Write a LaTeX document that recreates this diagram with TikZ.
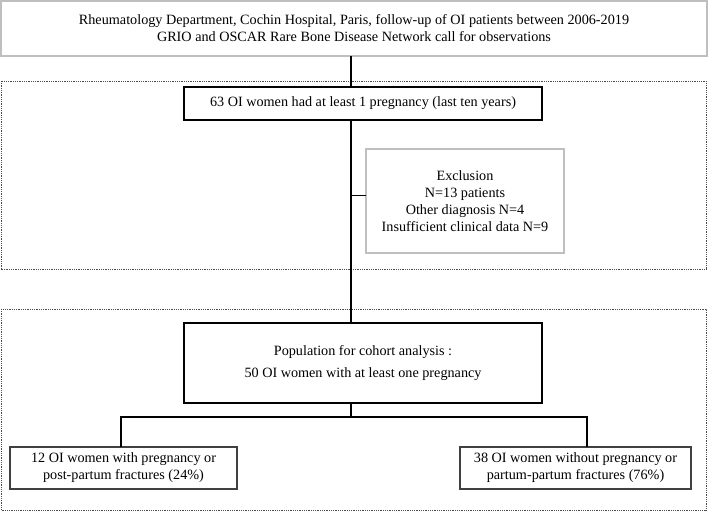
\documentclass[tikz,border=0pt]{standalone}
\usepackage{fontspec}
\setmainfont{Liberation Serif}
\begin{document}
\begin{tikzpicture}[x=1pt,y=-1pt,
  every node/.style={font=\fontsize{14.2}{17}\selectfont, align=center, inner sep=0pt, outer sep=0pt},
  graybox/.style={draw=black!25, line width=1.3pt},
  thickbox/.style={draw=black, line width=2.2pt},
  darkbox/.style={draw=black!75, line width=1.4pt},
  dotbox/.style={draw=black!70, line width=0.9pt, dash pattern=on 0.9pt off 0.9pt},
  conn/.style={draw=black, line width=2.2pt},
  thinconn/.style={draw=black, line width=1pt}]
\useasboundingbox (0,0) rectangle (708,512);
\coordinate (cx) at (351,0);
\coordinate (sy) at (0,195);
% dotted group frames
\draw[dotbox] (1,81) rectangle (706,269);
\draw[dotbox] (1,309) rectangle (706,510);
% nodes
\node[graybox, minimum width=706pt, minimum height=55pt] (top) at (354,28.5)
  {Rheumatology Department, Cochin Hospital, Paris, follow-up of OI patients between 2006-2019\\GRIO and OSCAR Rare Bone Disease Network call for observations};
\node[thickbox, minimum width=358pt, minimum height=33pt] (b63) at (363,103.5)
  {63 OI women had at least 1 pregnancy (last ten years)};
\node[graybox, minimum width=198pt, minimum height=104pt] (excl) at (465,201)
  {Exclusion\\N=13 patients\\Other diagnosis N=4\\Insufficient clinical data N=9};
\node[thickbox, minimum width=358pt, minimum height=80pt] (pop) at (363,363)
  {Population for cohort analysis :\\[5pt]50 OI women with at least one pregnancy};
\node[darkbox, minimum width=227pt, minimum height=42pt] (left) at (123.5,468)
  {12 OI women with pregnancy or\\post-partum fractures (24\%)};
\node[darkbox, minimum width=231pt, minimum height=42pt] (right) at (575.5,468)
  {38 OI women without pregnancy or\\partum-partum fractures (76\%)};
% connectors
\coordinate (lx) at (121,417);
\coordinate (rx) at (587,417);
\draw[conn] (top.south -| cx) -- (b63.north -| cx);
\draw[conn] (b63.south -| cx) -- (pop.north -| cx);
\draw[thinconn] (cx |- sy) -- (excl.west |- sy);
\draw[conn] (pop.south -| cx) -- (cx |- lx);
\draw[conn] (left.north -| lx) -- (lx) -- (rx) -- (right.north -| rx);
\end{tikzpicture}
\end{document}
